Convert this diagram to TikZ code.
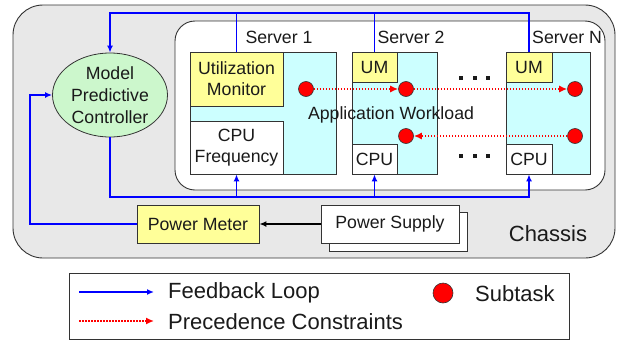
\documentclass[tikz,border=0pt]{standalone}
\usepackage{fontspec}
\setmainfont{Liberation Sans}
\usetikzlibrary{shapes.geometric,arrows.meta,calc}
\definecolor{chgray}{HTML}{E8E8E8}
\definecolor{cyanf}{HTML}{CCFFFF}
\definecolor{yelf}{HTML}{FFFF99}
\definecolor{grnf}{HTML}{CCF7CC}
\definecolor{edge}{HTML}{333333}
\definecolor{txt}{HTML}{1A1A1A}
\begin{document}
\begin{tikzpicture}[x=1pt,y=-1pt,
  every node/.style={text=txt,font=\fontsize{17.7}{21}\selectfont},
  box/.style={draw=edge,line width=0.8pt,inner sep=0pt,align=center},
  cyanbox/.style={box,fill=cyanf},
  yelbox/.style={box,fill=yelf},
  whbox/.style={box,fill=white},
  fbline/.style={draw=blue,line width=1.6pt},
  fb/.style={fbline,-{Latex[length=7pt,width=6pt]}},
  prec/.style={draw=red,line width=1.5pt,dash pattern=on 1.5pt off 1.5pt,-{Latex[length=8pt,width=7pt]}},
  subtask/.style={circle,draw=edge,line width=0.6pt,fill=red,inner sep=0pt,minimum size=15pt},
  dotsq/.style={rectangle,fill=txt,inner sep=0pt,minimum size=4pt},
  lbl/.style={inner sep=0pt},
  big/.style={font=\fontsize{22}{26}\selectfont}
]
\useasboundingbox (0,0) rectangle (621,343);
% chassis
\draw[draw=edge,line width=0.9pt,fill=chgray,rounded corners=30pt] (13,5) rectangle (615,258);
% server area
\fill[white,rounded corners=20pt] (175,21) rectangle (605,190);
\node[lbl] (s1lbl) at (279,37) {Server 1};
\node[lbl] (s2lbl) at (411,37) {Server 2};
\begin{scope}
\clip[rounded corners=20pt] (175,21) rectangle (605,190);
\node[lbl,anchor=west] (snlbl) at (532,37) {Server N};
\end{scope}
\draw[draw=edge,line width=0.9pt,rounded corners=20pt] (175,21) rectangle (605,190);

% servers
\node[cyanbox,minimum width=146pt,minimum height=122pt] (S1) at (263,113) {};
\node[cyanbox,minimum width=85pt,minimum height=122pt] (S2) at (394.5,113) {};
\node[cyanbox,minimum width=84pt,minimum height=122pt] (SN) at (548,113) {};
\node[yelbox,minimum width=93pt,minimum height=54pt] (UM1) at (236.5,79) {Utilization\\Monitor};
\node[whbox,minimum width=93pt,minimum height=53pt] (CPU1) at (236.5,147.5) {CPU\\Frequency};
\node[yelbox,minimum width=45pt,minimum height=30pt] (UM2) at (374.5,67) {UM};
\node[whbox,minimum width=45pt,minimum height=30pt] (CPU2) at (374.5,159) {CPU};
\node[yelbox,minimum width=46pt,minimum height=30pt] (UMN) at (529,67) {UM};
\node[whbox,minimum width=46pt,minimum height=30pt] (CPUN) at (529,159) {CPU};

\node[lbl] (aw) at (391,115) {Application Workload};
\node[dotsq] (d1a) at (461,78) {};
\node[dotsq] (d1b) at (474.5,78) {};
\node[dotsq] (d1c) at (488,78) {};
\node[dotsq] (d2a) at (461,156) {};
\node[dotsq] (d2b) at (474.5,156) {};
\node[dotsq] (d2c) at (488,156) {};

% subtasks
\node[subtask] (c11) at (306,89) {};
\node[subtask] (c21) at (406,89) {};
\node[subtask] (cN1) at (575,89) {};
\node[subtask] (c22) at (406,136) {};
\node[subtask] (cN2) at (575,136) {};
\draw[prec] (c11) -- (c21);
\draw[prec] (c21) -- (cN1);
\draw[prec] (cN2) -- (c22);

% controller
\node[ellipse,draw=edge,line width=0.8pt,fill=grnf,minimum width=115pt,minimum height=84pt,inner sep=0pt,align=center,font=\fontsize{17.7}{22}\selectfont] (MPC) at (110,95) {Model\\Predictive\\Controller};

% power
\node[whbox,minimum width=138pt,minimum height=39pt] (PSb) at (398,231.5) {};
\node[whbox,minimum width=138pt,minimum height=38pt] (PS) at (390,224) {Power Supply};
\node[yelbox,minimum width=122pt,minimum height=38pt] (PM) at (198,224) {Power Meter};
\draw[line width=1.6pt,-{Latex[length=7pt,width=6pt]}] (PS.west) -- (PM.east);

\node[lbl,big] (chassis) at (548,234) {Chassis};

% feedback loops
\coordinate (top) at (0,13);
\coordinate (bot) at (0,197);
\coordinate (lft) at (30,95);
\draw[fb] (UMN.north) |- (MPC.north |- top) -- (MPC.north);
\draw[fbline] (UM1.north) -- (UM1.north |- top);
\draw[fbline] (UM2.north) -- (UM2.north |- top);
\draw[fb] (MPC.south) |- (CPUN.south |- bot) -- (CPUN.south);
\draw[fb] (CPU1.south |- bot) -- (CPU1.south);
\draw[fb] (CPU2.south |- bot) -- (CPU2.south);
\draw[fb] (PM.west) -| (lft) -- (MPC.west);

% legend
\node[draw=edge,line width=0.8pt,fill=white,minimum width=500pt,minimum height=66pt,inner sep=0pt] (legend) at (319,306) {};
\coordinate (fa) at (79,292);
\coordinate (fb2) at (154,292);
\coordinate (pa) at (79,321);
\coordinate (pb) at (154,321);
\draw[fb] (fa) -- (fb2);
\draw[prec] (pa) -- (pb);
\node[lbl,big,anchor=west] (fbl) at (168,293) {Feedback Loop};
\node[lbl,big,anchor=west] (pcl) at (168,322) {Precedence Constraints};
\node[subtask,minimum size=20pt] (lsub) at (443,293) {};
\node[lbl,big,anchor=west] (sbl) at (475,294) {Subtask};
\end{tikzpicture}
\end{document}
